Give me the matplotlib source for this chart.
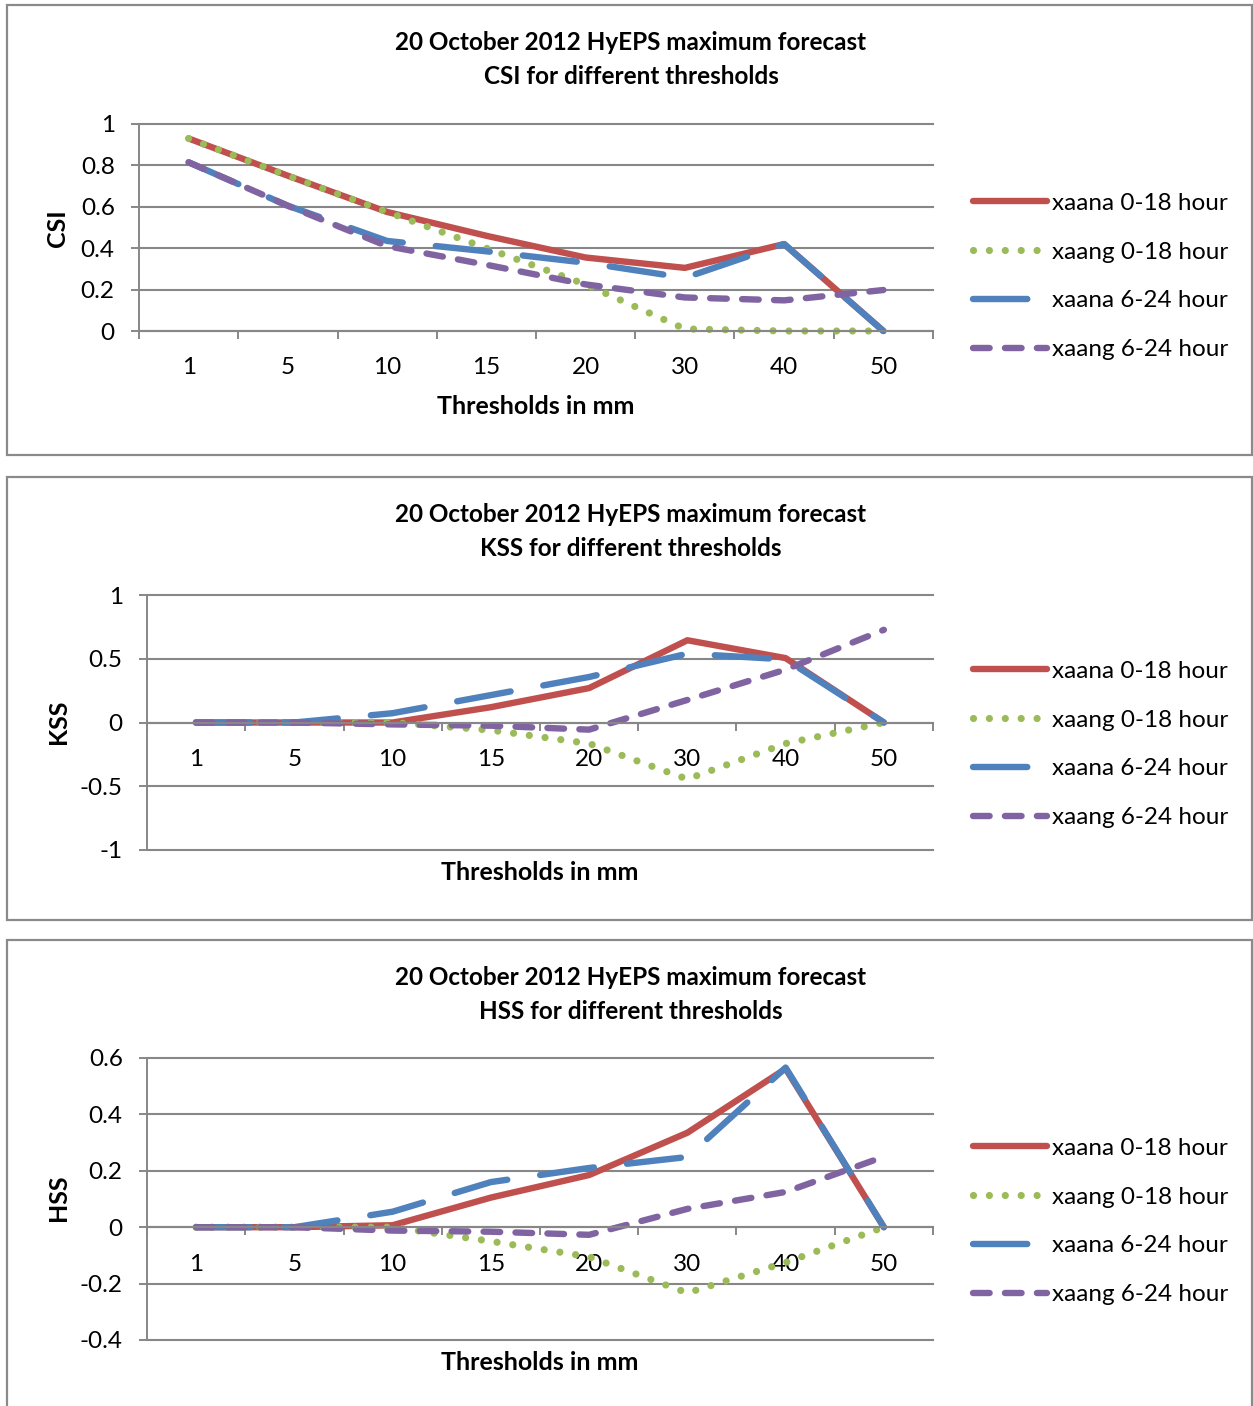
import matplotlib
matplotlib.use("Agg")
import matplotlib.pyplot as plt
from matplotlib.patches import Rectangle
from matplotlib.ticker import FixedLocator, NullFormatter

# ---- data -------------------------------------------------------------
thresholds = ["1", "5", "10", "15", "20", "30", "40", "50"]
series_labels = ["xaana 0-18 hour", "xaang 0-18 hour",
                 "xaana 6-24 hour", "xaang 6-24 hour"]

csi_xaana_0_18 = [0.93, 0.75, 0.575, 0.46, 0.355, 0.305, 0.42, 0.0]
csi_xaang_0_18 = [0.93, 0.75, 0.575, 0.40, 0.225, 0.01, 0.0, 0.0]
csi_xaana_6_24 = [0.815, 0.605, 0.435, 0.385, 0.33, 0.257, 0.42, 0.0]
csi_xaang_6_24 = [0.815, 0.605, 0.41, 0.32, 0.225, 0.162, 0.148, 0.198]

kss_xaana_0_18 = [0.0, 0.0, 0.0, 0.12, 0.27, 0.645, 0.505, 0.0]
kss_xaang_0_18 = [0.0, 0.0, 0.0, -0.06, -0.165, -0.444, -0.165, 0.0]
kss_xaana_6_24 = [0.0, 0.0, 0.073, 0.215, 0.357, 0.54, 0.495, 0.0]
kss_xaang_6_24 = [0.0, 0.0, -0.015, -0.025, -0.056, 0.177, 0.415, 0.727]

hss_xaana_0_18 = [0.0, 0.0, 0.007, 0.105, 0.185, 0.335, 0.562, 0.0]
hss_xaang_0_18 = [0.0, 0.0, 0.0, -0.05, -0.105, -0.233, -0.125, 0.0]
hss_xaana_6_24 = [0.0, 0.0, 0.055, 0.16, 0.21, 0.249, 0.566, 0.0]
hss_xaang_6_24 = [0.0, 0.0, -0.012, -0.016, -0.027, 0.065, 0.125, 0.25]

csi_yticks = [0, 0.2, 0.4, 0.6, 0.8, 1]
csi_yticklabels = ["0", "0.2", "0.4", "0.6", "0.8", "1"]
kss_yticks = [-1, -0.5, 0, 0.5, 1]
kss_yticklabels = ["-1", "-0.5", "0", "0.5", "1"]
hss_yticks = [-0.4, -0.2, 0, 0.2, 0.4, 0.6]
hss_yticklabels = ["-0.4", "-0.2", "0", "0.2", "0.4", "0.6"]

title_line1 = "20 October 2012 HyEPS maximum forecast"

# ---- style ------------------------------------------------------------
plt.rcParams["font.family"] = ["Lato", "DejaVu Sans"]
W, H, DPI = 1253, 1406, 100
GRID = "#878787"
colors = ["#C0504D", "#9BBB59", "#4F81BD", "#8064A2"]
widths = [4.6, 5.2, 4.6, 4.6]
styles = ["-", (0, (0.001, 2.2)), (0, (8.5, 5.2)), (0, (2.6, 2.4))]
TICK_FS = 17.5
TITLE_FS = 17.5
XLAB_FS = 18

fig = plt.figure(figsize=(W / DPI, H / DPI), dpi=DPI)


def fx(px):
    return px / W


def fy(py):
    return 1 - py / H


def add_frame(top, bottom):
    fig.patches.append(Rectangle((fx(7), fy(bottom)), fx(1252) - fx(7),
                                 fy(top) - fy(bottom), transform=fig.transFigure,
                                 fill=False, edgecolor="#8a8a8a", lw=1.6))


def make_panel(left, right, top, bottom, ylim, yticks, yticklabels,
               series, metric, title_y, ylab_y, xlab_x, xlab_y, leg_y):
    ax = fig.add_axes([fx(left), fy(bottom), fx(right) - fx(left),
                       fy(top) - fy(bottom)])
    # axis lines first: moving a spine resets the tick setup
    for s in ("top", "right"):
        ax.spines[s].set_visible(False)
    ax.spines["bottom"].set_position(("data", 0))
    ax.spines["left"].set_color(GRID)
    ax.spines["left"].set_linewidth(1.4)
    ax.spines["bottom"].set_color(GRID)
    ax.spines["bottom"].set_linewidth(1.5)

    x = list(range(len(thresholds)))
    for vals, lab, c, lw, ls in zip(series, series_labels, colors, widths, styles):
        ax.plot(x, vals, color=c, lw=lw, ls=ls, label=lab,
                solid_capstyle="round", dash_capstyle="round",
                solid_joinstyle="round", dash_joinstyle="round",
                clip_on=False)
    ax.set_xlim(-0.5, len(thresholds) - 0.5)
    ax.set_ylim(*ylim)
    ax.set_yticks(yticks)
    ax.set_yticklabels(yticklabels)
    ax.set_xticks(x)
    ax.set_xticklabels(thresholds)
    ax.xaxis.set_minor_locator(FixedLocator([i - 0.5 for i in range(len(thresholds) + 1)]))
    ax.xaxis.set_minor_formatter(NullFormatter())
    ax.tick_params(axis="x", which="major", length=0, pad=19,
                   labelsize=TICK_FS)
    ax.tick_params(axis="x", which="minor", length=6, width=1.4,
                   color=GRID, direction="out")
    ax.tick_params(axis="y", length=5.5, width=1.4, color=GRID, pad=12,
                   labelsize=TICK_FS)
    ax.grid(axis="y", color=GRID, lw=1.5, zorder=0)
    ax.set_axisbelow(True)
    for gl in ax.get_ygridlines():
        gl.set_clip_on(False)

    fig.text(fx(631), fy(title_y), title_line1 + "\n" + metric +
             " for different thresholds", ha="center", va="center",
             fontsize=TITLE_FS, fontweight="bold", linespacing=1.6)
    fig.text(fx(58), fy(ylab_y), metric, rotation=90, ha="center",
             va="center", fontsize=XLAB_FS, fontweight="bold")
    fig.text(fx(xlab_x), fy(xlab_y), "Thresholds in mm", ha="center",
             va="center", fontsize=XLAB_FS, fontweight="bold")
    ax.legend(loc="center left", bbox_to_anchor=(fx(973), fy(leg_y)),
              bbox_transform=fig.transFigure, frameon=False,
              fontsize=TICK_FS, handlelength=3.05, handletextpad=0.2,
              labelspacing=1.14, borderpad=0, borderaxespad=0)
    return ax


add_frame(5, 455)
add_frame(477, 920)
add_frame(940, 1420)

make_panel(139, 933, 124, 331, (0, 1), csi_yticks, csi_yticklabels,
           [csi_xaana_0_18, csi_xaang_0_18, csi_xaana_6_24, csi_xaang_6_24],
           "CSI", 59.5, 228, 536, 407, 276.5)
make_panel(147, 933, 595, 850, (-1, 1), kss_yticks, kss_yticklabels,
           [kss_xaana_0_18, kss_xaang_0_18, kss_xaana_6_24, kss_xaang_6_24],
           "KSS", 531.5, 722, 540, 872, 744.5)
make_panel(147, 933, 1058, 1340, (-0.4, 0.6), hss_yticks, hss_yticklabels,
           [hss_xaana_0_18, hss_xaang_0_18, hss_xaana_6_24, hss_xaang_6_24],
           "HSS", 994.5, 1198, 540, 1362, 1221.5)

fig.savefig("out.png", dpi=DPI)
